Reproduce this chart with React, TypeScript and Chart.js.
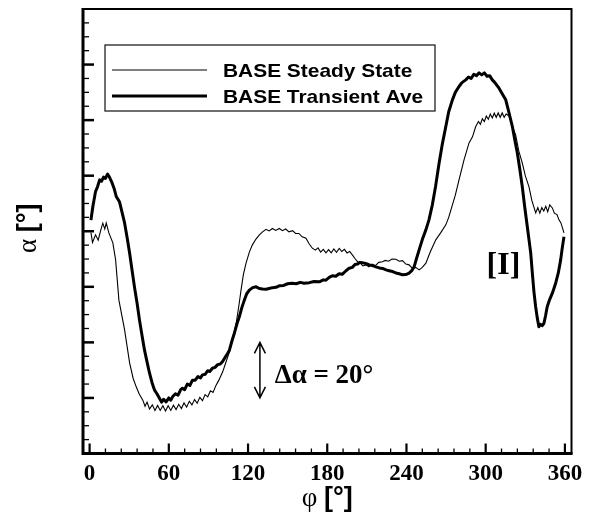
import React, { useEffect, useRef } from "react";
import { Chart, registerables } from "chart.js";

Chart.register(...registerables);

// ---- axis ranges / ticks ----
const X_MIN = -5;
const X_MAX = 365;
const Y_MIN = -80;
const Y_MAX = 80;
const X_MAJOR_TICKS = [0, 60, 120, 180, 240, 300, 360];
const X_TICK_LABELS = ["0", "60", "120", "180", "240", "300", "360"];
const X_MINOR_STEP = 12;
const Y_MAJOR_STEP = 20;
const Y_MINOR_STEP = 5;

// ---- texts ----
const X_TITLE_SYMBOL = "φ ";
const Y_TITLE_SYMBOL = "α ";
const TITLE_UNIT = "[°]";
const SERIES_NAMES = ["BASE Steady State", "BASE Transient Ave"];
const DELTA_LABEL = "Δα = 20°";
const CASE_LABEL = "[I]";

// ---- series: [phi (deg), alpha (deg)] ----
const STEADY: number[][] = [
  [1, -0.5], [2.2, -4], [4.5, -1.3], [6.5, -3.2], [8.5, 0.5], [10, 2.9], [11.5, 0.8], [12.6, 3], [14.6, -0.6],
  [17.6, -4.2], [19.7, -10.3], [22.2, -24.8], [26.5, -35.5], [30.3, -47.4], [33, -53], [35.3, -56], [37.5, -58.5],
  [40.3, -60.8], [42, -63], [43.5, -61.5], [45.4, -64], [47.5, -62.5], [49.5, -64.5], [51.5, -62.7], [53.5, -64.5],
  [55.5, -62.8], [57.5, -64.7], [59.5, -62.8], [61.5, -64.5], [63.5, -62.6], [65.5, -64.2], [67.5, -62.3],
  [69.5, -63.8], [71.5, -61.8], [73.5, -63.3], [75.5, -61.2], [77.5, -62.5], [79.5, -60.6], [81.5, -61.9],
  [83.5, -59.8], [85.5, -61], [87.5, -58.8], [89.5, -59.6], [91.5, -57.4], [93.5, -58], [95.8, -55.4],
  [98, -53.5], [100.8, -50.6], [103, -47.5], [105.9, -43.4], [108.5, -38.5], [111, -33.2], [113, -27],
  [114.7, -21.2], [116.5, -15.5], [118.5, -11.5], [121, -7.5], [123.3, -4.9], [126, -2.8], [128.6, -1.3],
  [131, -0.2], [133.6, 0.7], [136, 0.1], [138.5, 1], [141, 0.3], [143.7, 1], [146, 0.2], [148.5, 0.8],
  [151, -0.2], [153.8, 0.2], [156, -0.8], [158.5, -0.8], [161, -2], [163.9, -2.5], [166, -4.3], [168.7, -6.1],
  [171, -6.8], [173, -6], [175, -7.5], [177, -6.5], [179, -7.8], [181, -6.6], [183, -7.8], [185, -6.4],
  [187, -7.6], [189.1, -6.2], [191, -7.3], [193, -6.5], [195, -7.8], [197, -7.3], [199, -8.5], [201, -9.8],
  [203, -11], [205, -11.5], [207, -12.5], [209.3, -12.1], [211.5, -12.8], [214, -11.8], [216.5, -12.4],
  [219, -11.2], [221.8, -11.0], [224, -10.5], [226.5, -10.8], [229, -10], [232, -10.1], [234.5, -10.8],
  [237, -10.6], [239.5, -11.8], [242, -12.1], [244.5, -13.4], [247, -13], [249.6, -13.9], [252, -13],
  [254.7, -11.5], [258, -7.5], [262.2, -3.1], [266, -0.5], [269.8, 2.3], [272, 5], [274.8, 9.5], [277, 13],
  [279.8, 18.5], [283.6, 25.7], [287.4, 31.8], [290, 34], [292.4, 37.6], [294.5, 39.5], [296, 38.5],
  [297.5, 40.5], [299, 39.5], [300.5, 41.5], [302, 40.3], [303.5, 42.2], [305, 40.8], [306.5, 42.5],
  [308, 41], [309.5, 42.6], [311, 41], [312.5, 42.6], [314, 41], [315.5, 42.2], [317.7, 41.5], [320, 38],
  [322.7, 34.7], [325, 29], [327.7, 24.6], [330, 20], [332.8, 16], [335, 11], [337.9, 6.6], [339.5, 8.5],
  [341, 6.5], [342.5, 8.5], [344, 7.3], [345.5, 9], [347, 7], [348.5, 9.5], [350.5, 8.4], [352, 6.5],
  [354, 6], [355.5, 4.1], [357, 3], [359.3, -0.6],
];

const TRANSIENT: number[][] = [
  [1, 4], [2.5, 9], [4.5, 14.3], [6, 16], [7.6, 18.5], [9, 18], [10.6, 19.5], [12, 19], [13.6, 20.6],
  [15, 19.5], [16.6, 17.9], [18.5, 15.5], [20.2, 12.5], [22.7, 10.5], [24.5, 7], [26.5, 3], [28.5, -2.5],
  [30.3, -7.8], [32, -13.5], [34, -20.1], [36, -26], [37.8, -32], [39.7, -37.5], [41.6, -42.8], [43.5, -47],
  [45.4, -51.1], [47.3, -54.5], [49.2, -57.2], [51, -58.5], [52.9, -60.1], [54.5, -61.5], [56, -60.5],
  [58, -61.4], [60, -60], [61.5, -60.8], [62.8, -59.6], [65, -58.5], [67, -59], [69, -57], [70.3, -56.5],
  [72, -57], [74, -55], [76, -55.5], [77.9, -53.6], [80, -53.6], [82, -52.3], [84, -52.8], [85.5, -51.7],
  [87.5, -51.5], [89.5, -50.2], [91, -50.5], [93, -49.3], [95, -49], [97, -48], [99, -47.8], [100.6, -47],
  [102.5, -45.5], [104.5, -44], [105.9, -42.8], [107.8, -39.5], [109.7, -36.6], [111.5, -33.5],
  [113.4, -30.8], [115.3, -27.5], [117.2, -24.8], [119, -22.5], [121, -21.2], [123.5, -20.3], [126.1, -20],
  [128.5, -20.6], [131, -20.8], [133.6, -20.9], [136, -20.6], [138.5, -20.3], [141.2, -20.2], [144, -19.6],
  [147, -19.5], [150, -18.9], [153.5, -18.7], [156.5, -18.9], [159.5, -18.4], [162.5, -18.7], [166.4, -18.5],
  [170, -18.1], [174, -18.2], [177, -17.5], [179, -17.6], [181.5, -16.6], [183.8, -16], [186.5, -16.2],
  [189, -15.3], [191.3, -15.5], [194, -14.3], [196.6, -13.3], [199, -13], [201, -12], [203, -11.8],
  [204.7, -11.2], [206.5, -11.3], [209, -11.6], [212, -12.1], [214.5, -12.4], [216.8, -12.8], [219.5, -13.2],
  [222, -13.4], [224.5, -13.9], [226.9, -14.2], [229.5, -14.5], [232, -15], [234.5, -15.3], [237, -15.7],
  [239.5, -15.6], [242, -15.1], [244, -14.2], [245.8, -12.8], [247.5, -10], [249.6, -6.7], [252, -3],
  [254.7, 0.5], [257, 4], [259.6, 9.5], [262, 16], [264.7, 24.5], [267, 31], [269.8, 37.7], [272, 43],
  [274.8, 47.3], [277, 50], [279.8, 52.1], [282, 53.5], [284.9, 54.5], [287, 55.5], [289, 55], [291, 56.5],
  [293, 56], [295, 57], [297, 56.3], [299, 57], [301, 55.8], [303, 56], [305, 54.5], [307, 53.5],
  [308.5, 52.5], [310.1, 51.5], [312.5, 49.5], [315.2, 47.3], [317.5, 43], [320.2, 37.7], [322, 33],
  [324, 28.1], [325.8, 22.5], [327.7, 16.1], [329.5, 9], [331.5, 1.7], [332.8, -3], [334.1, -7.8],
  [335.5, -16], [336.6, -22], [337.8, -27], [339, -31], [340.3, -34.4], [341.5, -33.5], [342.8, -34],
  [344.1, -33.2], [345.3, -30.5], [346.6, -27.2], [348.5, -24.5], [350.5, -22.3], [353, -18.7], [355, -15],
  [356.8, -10.3], [358, -6], [359.3, -2],
];

// annotation anchors in data space
const ARROW_PHI = 129;
const ARROW_ALPHA = [-60, -40];
const DELTA_ANCHOR = [140.2, -54.8];
const CASE_ANCHOR = [300.7, -15.4];

const SERIF = '"Liberation Serif", "Times New Roman", serif';
const SANS = '"Liberation Sans", Arial, sans-serif';

const decorPlugin = {
  id: "decor",
  afterDatasetsDraw(chart: any) {
    const { ctx, chartArea: a, scales } = chart;
    const xs = scales.x;
    const ys = scales.y;
    ctx.save();
    ctx.strokeStyle = "#000";
    ctx.fillStyle = "#000";
    ctx.lineCap = "butt";

    // frame
    ctx.lineWidth = 2;
    ctx.strokeRect(a.left, a.top, a.right - a.left, a.bottom - a.top);
    ctx.lineWidth = 3;
    ctx.beginPath();
    ctx.moveTo(a.left, a.top - 1);
    ctx.lineTo(a.left, a.bottom);
    ctx.lineTo(a.right + 1, a.bottom);
    ctx.stroke();

    // x ticks (inside)
    for (let v = 0; v <= 360; v += X_MINOR_STEP) {
      const px = xs.getPixelForValue(v);
      const major = X_MAJOR_TICKS.includes(v);
      ctx.lineWidth = major ? 2.2 : 1.3;
      ctx.beginPath();
      ctx.moveTo(px, a.bottom);
      ctx.lineTo(px, a.bottom - (major ? 10 : 5));
      ctx.stroke();
    }
    // y ticks (inside)
    for (let v = Y_MIN + Y_MINOR_STEP; v < Y_MAX; v += Y_MINOR_STEP) {
      const py = ys.getPixelForValue(v);
      const major = v % Y_MAJOR_STEP === 0;
      ctx.lineWidth = major ? 2.5 : 1.3;
      ctx.beginPath();
      ctx.moveTo(a.left, py);
      ctx.lineTo(a.left + (major ? 11 : 6), py);
      ctx.stroke();
    }

    // x tick labels
    ctx.font = `bold 23px ${SERIF}`;
    ctx.textAlign = "center";
    ctx.textBaseline = "alphabetic";
    X_MAJOR_TICKS.forEach((v, i) => {
      ctx.fillText(X_TICK_LABELS[i], xs.getPixelForValue(v), a.bottom + 26);
    });

    // composite title helper
    const drawTitle = (sym: string, cx: number, baseY: number) => {
      ctx.textAlign = "left";
      ctx.font = `27px ${SERIF}`;
      const w1 = ctx.measureText(sym).width;
      ctx.font = `bold 27px ${SANS}`;
      const w2 = ctx.measureText(TITLE_UNIT).width;
      const start = cx - (w1 + w2) / 2;
      ctx.font = `27px ${SERIF}`;
      ctx.fillText(sym, start, baseY);
      ctx.font = `bold 27px ${SANS}`;
      ctx.fillText(TITLE_UNIT, start + w1, baseY);
    };
    // x title
    drawTitle(X_TITLE_SYMBOL, xs.getPixelForValue(180), a.bottom + 52);
    // y title
    ctx.save();
    ctx.translate(36, ys.getPixelForValue(0) - 3);
    ctx.rotate(-Math.PI / 2);
    drawTitle(Y_TITLE_SYMBOL, 0, 0);
    ctx.restore();

    // legend
    const lx = a.left + 22;
    const ly = a.top + 36;
    ctx.lineWidth = 1.3;
    ctx.strokeStyle = "#222";
    ctx.strokeRect(lx, ly, 330, 66);
    ctx.strokeStyle = "#000";
    const rows = [
      { y: ly + 25, w: 1.2, text: SERIES_NAMES[0] },
      { y: ly + 51, w: 3.2, text: SERIES_NAMES[1] },
    ];
    ctx.font = `bold 19px ${SANS}`;
    ctx.textAlign = "left";
    rows.forEach((r) => {
      ctx.lineWidth = r.w;
      ctx.beginPath();
      ctx.moveTo(lx + 7, r.y);
      ctx.lineTo(lx + 102, r.y);
      ctx.stroke();
      ctx.save();
      ctx.translate(lx + 118, r.y + 7);
      ctx.scale(1.1, 1);
      ctx.fillText(r.text, 0, 0);
      ctx.restore();
    });

    // delta arrow
    const axp = xs.getPixelForValue(ARROW_PHI);
    const ay1 = ys.getPixelForValue(ARROW_ALPHA[1]);
    const ay2 = ys.getPixelForValue(ARROW_ALPHA[0]);
    ctx.lineWidth = 1.5;
    ctx.beginPath();
    ctx.moveTo(axp, ay1);
    ctx.lineTo(axp, ay2);
    ctx.moveTo(axp - 5.5, ay1 + 11);
    ctx.lineTo(axp, ay1);
    ctx.lineTo(axp + 5.5, ay1 + 11);
    ctx.moveTo(axp - 5.5, ay2 - 11);
    ctx.lineTo(axp, ay2);
    ctx.lineTo(axp + 5.5, ay2 - 11);
    ctx.stroke();

    ctx.font = `bold 27px ${SERIF}`;
    ctx.textAlign = "left";
    ctx.fillText(DELTA_LABEL, xs.getPixelForValue(DELTA_ANCHOR[0]), ys.getPixelForValue(DELTA_ANCHOR[1]));

    ctx.font = `bold 32px ${SERIF}`;
    ctx.fillText(CASE_LABEL, xs.getPixelForValue(CASE_ANCHOR[0]), ys.getPixelForValue(CASE_ANCHOR[1]));

    ctx.restore();
  },
};

export default function App() {
  const canvasRef = useRef<HTMLCanvasElement | null>(null);

  useEffect(() => {
    document.body.style.margin = "0";
    const canvas = canvasRef.current;
    if (!canvas) return;
    const chart = new Chart(canvas, {
      type: "line",
      data: {
        datasets: [
          {
            label: SERIES_NAMES[0],
            data: STEADY.map(([x, y]) => ({ x, y })),
            borderColor: "#000",
            borderWidth: 1.1,
            pointRadius: 0,
            tension: 0,
            fill: false,
          },
          {
            label: SERIES_NAMES[1],
            data: TRANSIENT.map(([x, y]) => ({ x, y })),
            borderColor: "#000",
            borderWidth: 3,
            pointRadius: 0,
            tension: 0,
            fill: false,
            borderJoinStyle: "round",
          },
        ],
      } as any,
      options: {
        responsive: false,
        animation: false,
        devicePixelRatio: 1,
        layout: { padding: { left: 83, top: 9, right: 20.5, bottom: 58.5 } },
        scales: {
          x: { type: "linear", min: X_MIN, max: X_MAX, display: false },
          y: { type: "linear", min: Y_MIN, max: Y_MAX, display: false },
        },
        plugins: {
          legend: { display: false },
          tooltip: { enabled: false },
        },
      } as any,
      plugins: [decorPlugin],
    });
    return () => chart.destroy();
  }, []);

  return (
    <div style={{ position: "absolute", left: 0, top: 0, width: 592, height: 512, background: "#fff" }}>
      <canvas ref={canvasRef} width={592} height={512} style={{ width: 592, height: 512 }} />
    </div>
  );
}
